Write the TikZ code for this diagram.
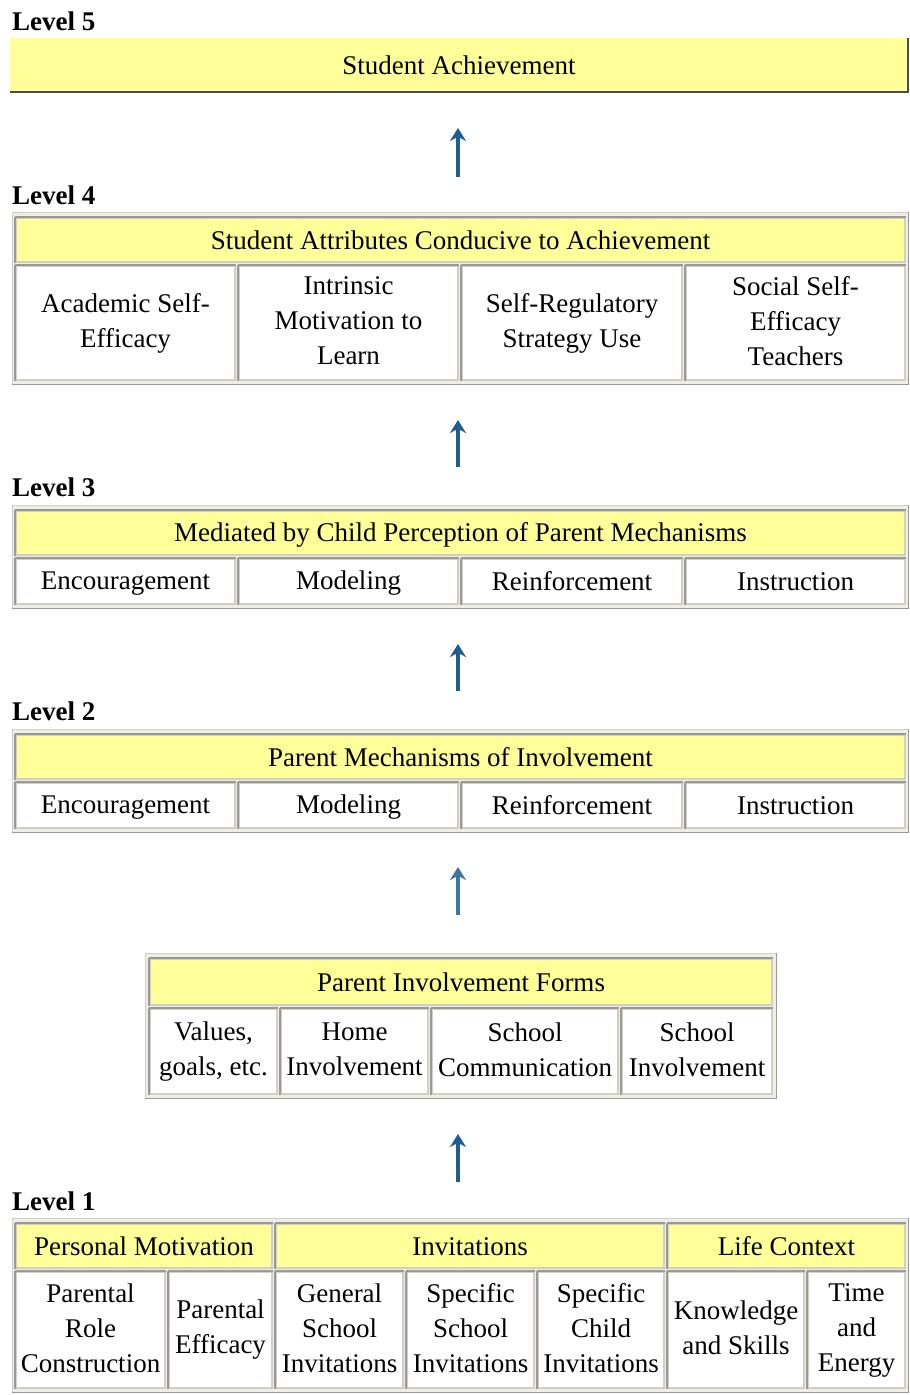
\documentclass[tikz,border=0pt]{standalone}
\usepackage{fontspec}
\setmainfont{Liberation Serif}
\usepackage{xcolor}
\usetikzlibrary{arrows.meta}
\definecolor{headyellow}{HTML}{FFFF99}
\definecolor{framebg}{HTML}{EEEDE6}
\definecolor{celledge}{HTML}{D0CEC6}
\definecolor{celldark}{HTML}{9A9A94}
\definecolor{arrowblue}{HTML}{1F5D91}

\begin{document}
\begin{tikzpicture}[x=1pt, y=-1pt,
    frame/.style={draw=celledge, fill=framebg, line width=1pt, inner sep=0pt,
      append after command={(\tikzlastnode.north east) edge[celldark, line width=1.5pt]
        (\tikzlastnode.south east) (\tikzlastnode.south east) edge[celldark, line width=1.5pt]
        (\tikzlastnode.south west)}},
    celltext/.style={inner sep=0pt, align=center, font=\fontsize{27}{35}\selectfont,
      execute at begin node={\rule{0pt}{22pt}},
      execute at end node={\rule[-4pt]{0pt}{4pt}}},
    cellbox/.style={celltext, draw=celledge, line width=1.8pt, fill=white,
      append after command={(\tikzlastnode.south west) edge[celldark, line width=1.8pt]
        (\tikzlastnode.north west) (\tikzlastnode.north west) edge[celldark, line width=1.8pt]
        (\tikzlastnode.north east)}},
    headbox/.style={cellbox, fill=headyellow},
    levellabel/.style={anchor=base west, inner sep=0pt, font=\fontsize{27}{27}\selectfont\bfseries},
    uparrow/.style={arrowblue, line width=4.5pt, -{Stealth[length=13pt, width=16pt]}}
  ]
  \useasboundingbox (0,0) rectangle (910,1395);
  % cell: style, name, x1, y1, x2, y2, text
  \def\tcell#1#2#3#4#5#6#7{%
    \node[#1, minimum width={(#5-#3)*1pt}, minimum height={(#6-#4)*1pt}]
      (#2) at ({(#3+#5)/2}, {(#4+#6)/2}) {#7};}

  % level 5
  \node[levellabel] (lab5) at (12,30) {Level 5};
  \tcell{celltext, fill=headyellow}{goal}{10}{38}{908}{92}{Student Achievement}
  \draw[black!70, line width=2pt]
    (goal.south west) -- (goal.south east) -- (goal.north east);

  % level 4
  \node[levellabel] (lab4) at (12,204) {Level 4};
  \tcell{frame}{l4}{12}{212}{908}{384}{}
  \tcell{headbox}{l4h}{16}{218}{905}{262}{Student Attributes Conducive to Achievement}
  \tcell{cellbox}{l4a}{16}{266}{235}{380}{Academic Self-\\Efficacy}
  \tcell{cellbox}{l4b}{239}{266}{458}{380}{Intrinsic\\Motivation to\\Learn}
  \tcell{cellbox}{l4c}{462}{266}{682}{380}{Self-Regulatory\\Strategy Use}
  \tcell{cellbox}{l4d}{686}{266}{905}{380}{Social Self-\\Efficacy\\Teachers}

  % level 3
  \node[levellabel] (lab3) at (12,496) {Level 3};
  \tcell{frame}{l3}{12}{505}{908}{608}{}
  \tcell{headbox}{l3h}{16}{511}{905}{555}{Mediated by Child Perception of Parent Mechanisms}
  \tcell{cellbox}{l3a}{16}{559}{235}{604}{Encouragement}
  \tcell{cellbox}{l3b}{239}{559}{458}{604}{Modeling}
  \tcell{cellbox}{l3c}{462}{559}{682}{604}{Reinforcement}
  \tcell{cellbox}{l3d}{686}{559}{905}{604}{Instruction}

  % level 2
  \node[levellabel] (lab2) at (12,720) {Level 2};
  \tcell{frame}{l2}{12}{729}{908}{832}{}
  \tcell{headbox}{l2h}{16}{735}{905}{779}{Parent Mechanisms of Involvement}
  \tcell{cellbox}{l2a}{16}{783}{235}{828}{Encouragement}
  \tcell{cellbox}{l2b}{239}{783}{458}{828}{Modeling}
  \tcell{cellbox}{l2c}{462}{783}{682}{828}{Reinforcement}
  \tcell{cellbox}{l2d}{686}{783}{905}{828}{Instruction}

  % involvement forms
  \tcell{frame}{pf}{145}{953}{776}{1098}{}
  \tcell{headbox}{pfh}{150}{959}{772}{1005}{Parent Involvement Forms}
  \tcell{cellbox}{pfa}{150}{1009}{277}{1094}{Values,\\goals, etc.}
  \tcell{cellbox}{pfb}{281}{1009}{428}{1094}{Home\\Involvement}
  \tcell{cellbox}{pfc}{432}{1009}{618}{1094}{School\\Communication}
  \tcell{cellbox}{pfd}{622}{1009}{772}{1094}{School\\Involvement}

  % level 1
  \node[levellabel] (lab1) at (12,1210) {Level 1};
  \tcell{frame}{l1}{12}{1218}{908}{1392}{}
  \tcell{headbox}{l1h1}{16}{1224}{272}{1268}{Personal Motivation}
  \tcell{headbox}{l1h2}{276}{1224}{664}{1268}{Invitations}
  \tcell{headbox}{l1h3}{668}{1224}{905}{1268}{Life Context}
  \tcell{cellbox}{l1a}{16}{1272}{165}{1388}{Parental\\Role\\Construction}
  \tcell{cellbox}{l1b}{169}{1272}{272}{1388}{Parental\\Efficacy}
  \tcell{cellbox}{l1c}{276}{1272}{403}{1388}{General\\School\\Invitations}
  \tcell{cellbox}{l1d}{407}{1272}{534}{1388}{Specific\\School\\Invitations}
  \tcell{cellbox}{l1e}{538}{1272}{664}{1388}{Specific\\Child\\Invitations}
  \tcell{cellbox}{l1f}{668}{1272}{804}{1388}{Knowledge\\and Skills}
  \tcell{cellbox}{l1g}{808}{1272}{905}{1388}{Time\\and\\Energy}

  % arrows between levels
  \coordinate (a5) at (458,128);
  \coordinate (a4) at (458,420);
  \coordinate (a3) at (458,644);
  \coordinate (a2) at (458,867);
  \coordinate (a1) at (458,1134);
  \draw[uparrow] (a5 |- l4.north) ++ (0,-35) -- (a5);
  \draw[uparrow] (a4 |- l3.north) ++ (0,-38) -- (a4);
  \draw[uparrow] (a3 |- l2.north) ++ (0,-38) -- (a3);
  \draw[uparrow, arrowblue!85] (a2 |- pf.north) ++ (0,-38) -- (a2);
  \draw[uparrow] (a1 |- l1.north) ++ (0,-36) -- (a1);
\end{tikzpicture}
\end{document}
